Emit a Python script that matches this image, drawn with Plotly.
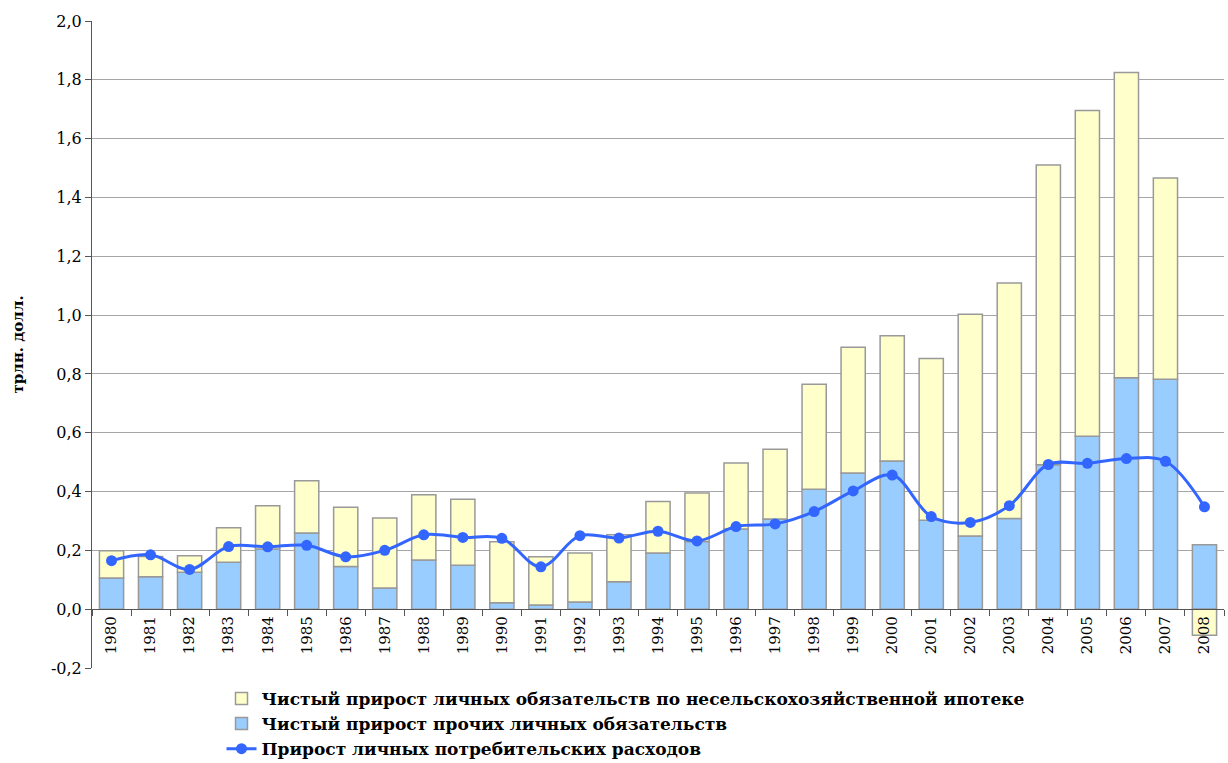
import plotly.graph_objects as go

years = [str(y) for y in range(1980, 2009)]

# Net increase in non-farm mortgage liabilities (trillion USD)
mortgage = [0.093, 0.069, 0.056, 0.117, 0.147, 0.178, 0.202, 0.238, 0.222, 0.225,
            0.207, 0.164, 0.167, 0.160, 0.175, 0.165, 0.224, 0.237, 0.357, 0.428,
            0.426, 0.550, 0.754, 0.801, 1.019, 1.108, 1.038, 0.684, -0.089]

# Net increase in other personal liabilities (trillion USD)
other = [0.106, 0.110, 0.126, 0.160, 0.205, 0.259, 0.145, 0.072, 0.167, 0.149,
         0.022, 0.014, 0.024, 0.093, 0.191, 0.230, 0.273, 0.307, 0.408, 0.463,
         0.504, 0.302, 0.249, 0.308, 0.491, 0.588, 0.787, 0.782, 0.219]

# Increase in personal consumption expenditures (trillion USD)
consumption = [0.165, 0.185, 0.135, 0.213, 0.212, 0.217, 0.178, 0.200, 0.253, 0.244,
               0.241, 0.144, 0.250, 0.242, 0.265, 0.232, 0.281, 0.290, 0.332, 0.402,
               0.456, 0.315, 0.295, 0.352, 0.492, 0.496, 0.512, 0.503, 0.348]

y_ticks = [-0.2, 0.0, 0.2, 0.4, 0.6, 0.8, 1.0, 1.2, 1.4, 1.6, 1.8, 2.0]
y_labels = [f"{v:.1f}".replace(".", ",") for v in y_ticks]

label_mortgage = "Чистый прирост личных обязательств по несельскохозяйственной ипотеке"
label_other = "Чистый прирост прочих личных обязательств"
label_consumption = "Прирост личных потребительских расходов"

serif = "DejaVu Serif"
outline = dict(color="#999999", width=1.5)

fig = go.Figure()
fig.add_trace(go.Bar(x=years, y=other, name=label_other, legendrank=2,
                     marker=dict(color="#99CCFF", line=outline)))
fig.add_trace(go.Bar(x=years, y=mortgage, name=label_mortgage, legendrank=1,
                     marker=dict(color="#FFFFCC", line=outline)))
fig.add_trace(go.Scatter(x=years, y=consumption, name=label_consumption, legendrank=3,
                         mode="lines+markers",
                         line=dict(color="#3366FF", width=3, shape="spline", smoothing=1.0),
                         marker=dict(color="#3366FF", size=11)))

fig.update_layout(
    width=1228, height=763,
    margin=dict(l=92, r=4, t=21, b=95, autoexpand=False),
    barmode="relative", bargap=0.38,
    plot_bgcolor="white", paper_bgcolor="white",
    font=dict(family=serif, size=16, color="black"),
    showlegend=True,
    legend=dict(x=0.1144, y=-0.020, xanchor="left", yanchor="top",
                orientation="v", traceorder="normal",
                font=dict(family=serif, size=17, color="black", weight="bold"),
                itemwidth=30, tracegroupgap=0, bgcolor="rgba(0,0,0,0)"),
)

fig.update_xaxes(
    type="category", range=[-0.5, 28.5], anchor="free", position=0.2 / 2.2,
    automargin=False,
    showline=True, linecolor="#555555", linewidth=1,
    ticks="outside", tickson="boundaries", ticklen=6, tickcolor="#555555",
    tickangle=-90, tickfont=dict(family=serif, size=15),
    showgrid=False, zeroline=False,
)
fig.update_yaxes(
    range=[-0.2, 2.0], tickvals=y_ticks, ticktext=y_labels, automargin=False,
    showline=True, linecolor="#555555", linewidth=1,
    ticks="outside", ticklen=6, tickcolor="#555555",
    showgrid=True, gridcolor="#A6A6A6", gridwidth=1,
    zeroline=False, tickfont=dict(family=serif, size=16),
)

fig.add_annotation(text="<b>трлн. долл.</b>", textangle=-90,
                   xref="paper", yref="paper", x=-0.0654, y=0.50,
                   xanchor="center", yanchor="middle", showarrow=False,
                   font=dict(family=serif, size=15, color="black"))

fig.write_html("out.html")
